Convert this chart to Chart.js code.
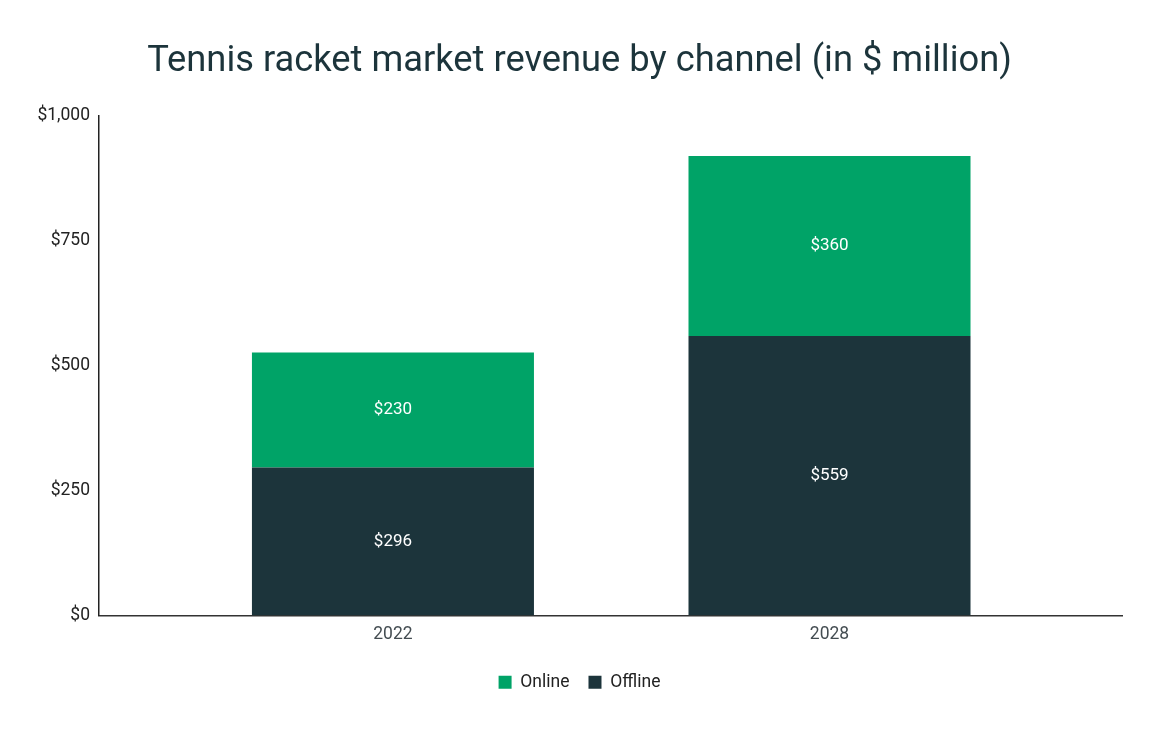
<!DOCTYPE html>
<html>
<head>
<meta charset="utf-8">
<title>Tennis racket market revenue by channel</title>
<script src="https://cdn.jsdelivr.net/npm/chart.js@4"></script>
<style>
  html, body { margin: 0; padding: 0; background: #fff; }
  #wrap { width: 1159px; height: 729px; }
</style>
</head>
<body>
<div id="wrap"><canvas id="myChart"></canvas></div>
<script>
const years = ['2022', '2028'];
const offline = [296, 559];
const online = [230, 360];
const yTicks = [0, 250, 500, 750, 1000];

const money = v => '$' + v.toLocaleString('en-US');

// writes the value in the middle of each bar segment
const segmentLabels = {
  id: 'segmentLabels',
  afterDatasetsDraw(chart) {
    const ctx = chart.ctx;
    ctx.save();
    ctx.font = '17px Roboto';
    ctx.fillStyle = '#ffffff';
    ctx.textAlign = 'center';
    ctx.textBaseline = 'middle';
    chart.data.datasets.forEach((ds, i) => {
      chart.getDatasetMeta(i).data.forEach((bar, j) => {
        const p = bar.getProps(['x', 'y', 'base'], true);
        ctx.fillText(money(ds.data[j]), p.x, (p.y + p.base) / 2);
      });
    });
    ctx.restore();
  }
};

const ctx = document.getElementById('myChart').getContext('2d');
const chart = new Chart(ctx, {
  type: 'bar',
  data: {
    labels: years,
    datasets: [
      {
        label: 'Offline',
        data: offline,
        backgroundColor: '#1c343b'
      },
      {
        label: 'Online',
        data: online,
        backgroundColor: '#00a367'
      }
    ]
  },
  options: {
    responsive: true,
    maintainAspectRatio: false,
    animation: false,
    barPercentage: 1,
    categoryPercentage: 0.646,
    layout: { padding: { left: 0, right: 0, top: 0, bottom: 28 } },
    plugins: {
      title: {
        display: true,
        text: 'Tennis racket market revenue by channel (in $ million)',
        color: '#1c343b',
        font: { family: 'Roboto', size: 36.3, weight: 'normal' },
        padding: { top: 40, bottom: 32 }
      },
      legend: {
        position: 'bottom',
        labels: {
          color: '#222',
          font: { family: 'Roboto', size: 17.5 },
          boxWidth: 13,
          boxHeight: 13,
          padding: 19,
          // Online first, like the reference
          sort: (a, b) => b.datasetIndex - a.datasetIndex
        }
      },
      tooltip: { enabled: false }
    },
    scales: {
      x: {
        type: 'linear',
        stacked: true,
        offset: false,
        min: 2017.96,
        max: 2032.02,
        afterBuildTicks: scale => {
          scale.ticks = years.map(y => ({ value: +y }));
        },
        grid: { display: false, drawTicks: false, offset: false },
        border: { color: '#333', width: 1.5 },
        ticks: {
          color: '#444d52',
          font: { family: 'Roboto', size: 17.5 },
          padding: 9,
          callback: v => String(v)
        }
      },
      y: {
        stacked: true,
        min: 0,
        max: 1000,
        afterBuildTicks: scale => {
          scale.ticks = yTicks.map(v => ({ value: v }));
        },
        afterFit: scale => { scale.width = 99; },
        grid: { display: false, drawTicks: false },
        border: { color: '#222', width: 1.5 },
        ticks: {
          color: '#222',
          font: { family: 'Roboto', size: 17.5 },
          padding: 9,
          callback: v => money(v)
        }
      },
      // empty right-hand axis, only to leave the margin the reference has
      yRight: {
        position: 'right',
        display: true,
        afterFit: scale => { scale.width = 37; },
        grid: { display: false, drawTicks: false },
        border: { display: false },
        ticks: { display: false }
      }
    }
  },
  plugins: [segmentLabels]
});
</script>
</body>
</html>
